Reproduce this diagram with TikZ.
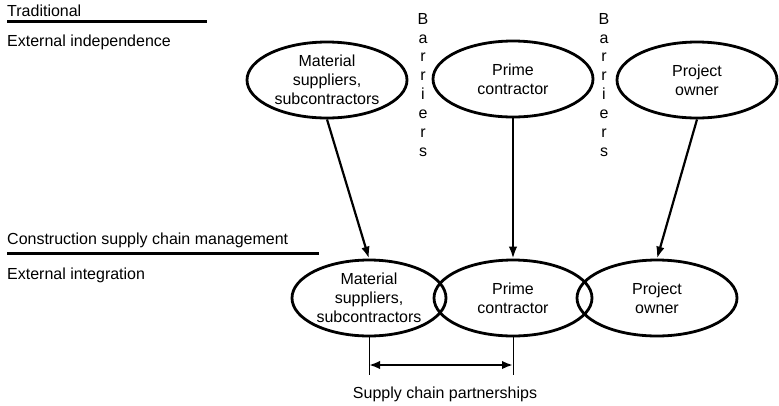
\documentclass[tikz,border=0pt]{standalone}
\usepackage{fontspec}
\setmainfont{Liberation Sans}
\usetikzlibrary{shapes.geometric,arrows.meta}
\tikzset{
  oval/.style={ellipse, draw, line width=2.8pt, minimum width=160pt, minimum height=76pt,
    inner sep=0pt, align=center, font=\fontsize{16}{19}\selectfont},
  lbl/.style={inner sep=0pt, anchor=base west, font=\fontsize{16}{19}\selectfont},
  barr/.style={inner sep=0pt, anchor=north, align=center, font=\fontsize{16}{18.86}\selectfont},
  rule/.style={line width=3pt},
  arr/.style={line width=2.2pt, -{Latex[length=12pt,width=8.5pt]}},
  dbl/.style={line width=2.6pt, {Latex[length=11pt,width=8.5pt]}-{Latex[length=11pt,width=8.5pt]}},
  thin/.style={line width=1pt}
}
\begin{document}
\begin{tikzpicture}[x=1pt,y=-1pt]
\useasboundingbox[fill=white] (0,0) rectangle (779,405);
% left labels
\node[lbl] (trad) at (7,16.5) {Traditional};
\coordinate (t1) at (7,21.5);
\coordinate (t2) at (207,21.5);
\draw[rule] (t1) -- (t2);
\node[lbl] (extind) at (7,46.5) {External independence};
\node[lbl] (cscm) at (7,244.5) {Construction supply chain management};
\coordinate (c1) at (7,253);
\coordinate (c2) at (319,253);
\draw[rule] (c1) -- (c2);
\node[lbl] (extint) at (7,279.5) {External integration};
% barriers
\node[barr] (bar1) at (423,13) {B\\a\\r\\r\\i\\e\\r\\s};
\node[barr] (bar2) at (604,13) {B\\a\\r\\r\\i\\e\\r\\s};
% top ovals
\node[oval] (tl) at (327,80) {Material\\suppliers,\\subcontractors};
\node[oval] (tm) at (513,79) {Prime\\contractor};
\node[oval] (tr) at (697,80) {Project\\owner};
% bottom ovals
\node[oval, minimum width=154pt] (bl) at (369,298) {Material\\suppliers,\\subcontractors};
\node[oval, minimum width=158pt] (bm) at (513,298) {Prime\\contractor};
\node[oval] (br) at (657,298) {Project\\owner};
% arrows
\draw[arr] (tl.south) -- (bl.north);
\draw[arr] (tm.south) -- (bm.north);
\draw[arr] (tr.south) -- (br.north);
% partnerships bracket
\coordinate (pl) at (bl.south |- 0,375);
\coordinate (pr) at (bm.south |- 0,375);
\draw[thin] (bl.south) -- (pl);
\draw[thin] (bm.south) -- (pr);
\coordinate (al) at (bl.south |- 0,365);
\coordinate (ar) at (bm.south |- 0,365);
\draw[dbl] (al) -- (ar);
\node[inner sep=0pt, anchor=base, font=\fontsize{16}{19}\selectfont] (scp) at (445,398.5) {Supply chain partnerships};
\end{tikzpicture}
\end{document}
